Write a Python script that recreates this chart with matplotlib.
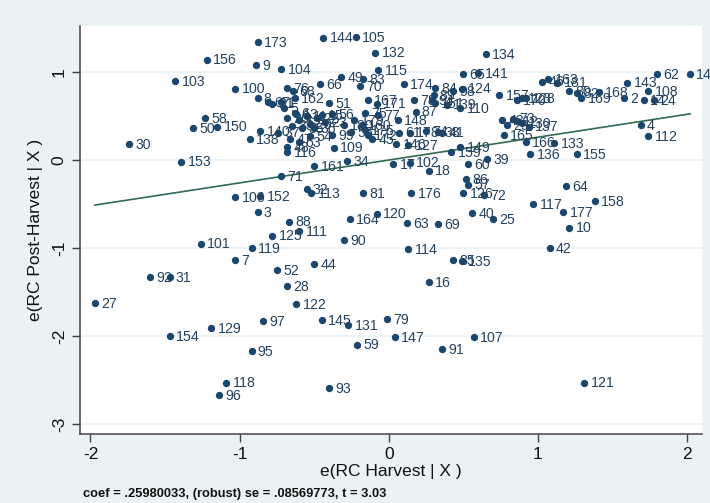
import matplotlib
matplotlib.use("Agg")
import matplotlib.pyplot as plt

plt.rcParams['font.family'] = ['Liberation Sans', 'DejaVu Sans']
plt.rcParams['axes.unicode_minus'] = False

# added-variable plot: residuals of post-harvest RC vs residuals of harvest RC
COEF = 0.25980033
NOTE = "coef = .25980033, (robust) se = .08569773, t = 3.03"

obs = [173, 156, 9, 104, 103, 100, 58, 50, 150, 30, 153, 138, 140, 144, 105, 132,
       134, 115, 49, 83, 66, 70, 174, 51, 167, 87, 110, 65, 141, 148, 39, 60,
       149, 159, 161, 34, 17, 102, 18, 109, 146, 127, 99, 45, 74, 38, 41,
       62, 142, 163, 46, 181, 80, 82, 169, 168, 2, 143, 14, 108, 24, 157, 170,
       128, 123, 43, 29, 73, 12, 130, 137, 165, 166, 133, 136, 155, 4, 112,
       71, 106, 152, 3, 88, 125, 101, 119, 7, 52, 92, 31, 27, 28, 111, 32,
       113, 81, 176, 86, 57, 126, 72, 40, 25, 63, 69, 164, 120, 90, 114, 44,
       85, 135, 16, 122, 64, 158, 117, 177, 10, 42, 154, 129, 97, 95, 118, 96,
       145, 131, 79, 147, 59, 91, 107, 93, 121,
       76, 68, 8, 67, 21, 1, 5, 162, 6, 11, 13, 15, 56, 19, 20, 22,
       23, 26, 33, 35, 36, 37, 47, 48, 116, 53, 54, 55, 171, 75, 77, 78,
       84, 89, 94, 98, 124, 139, 151, 160, 175, 172, 61, 178, 179, 180]

e_harvest = [-0.88, -1.22, -0.89, -0.72, -1.43, -1.03, -1.23, -1.31, -1.15, -1.74, -1.39, -0.93, -0.86, -0.44, -0.22, -0.09,
             0.65, -0.07, -0.32, -0.17, -0.46, -0.19, 0.10, -0.40, -0.14, 0.18, 0.48, 0.50, 0.60, 0.06, 0.66, 0.53,
             0.48, 0.42, -0.50, -0.28, 0.03, 0.14, 0.27, -0.37, 0.05, 0.13, -0.38, -0.11, 0.25, 0.33, 0.36,
             1.80, 2.02, 1.07, 1.03, 1.13, 1.21, 1.26, 1.29, 1.41, 1.58, 1.60, 1.71, 1.74, 1.78, 0.74, 0.86,
             0.92, 0.89, 0.76, 0.79, 0.83, 0.86, 0.89, 0.94, 0.77, 0.92, 1.11, 0.95, 1.26, 1.69, 1.74,
             -0.72, -1.03, -0.86, -0.88, -0.67, -0.78, -1.26, -0.92, -1.03, -0.75, -1.60, -1.47, -1.97, -0.68, -0.60, -0.55,
             -0.52, -0.17, 0.15, 0.52, 0.53, 0.50, 0.64, 0.56, 0.70, 0.12, 0.33, -0.26, -0.08, -0.30, 0.13, -0.50,
             0.43, 0.49, 0.27, -0.62, 1.19, 1.38, 0.97, 1.17, 1.21, 1.08, -1.47, -1.19, -0.84, -0.92, -1.09, -1.14,
             -0.45, -0.27, -0.01, 0.04, -0.21, 0.36, 0.57, -0.40, 1.31,
             -0.68, -0.64, -0.88, -0.81, -0.78, -0.72, -0.70, -0.63, -0.63, -0.55, -0.62, -0.45, -0.38, -0.60, -0.53, -0.48,
             -0.43, -0.68, -0.65, -0.58, -0.50, -0.74, -0.66, -0.68, -0.68, -0.60, -0.53, -0.25, -0.08, -0.16, -0.07, 0.17,
             0.31, 0.30, 0.29, 0.43, 0.49, 0.39, 0.31, -0.18, -0.16, -0.14, 0.07, 0.14, -0.23, -0.30]

e_post = [1.34, 1.14, 1.08, 1.03, 0.90, 0.81, 0.48, 0.36, 0.38, 0.18, -0.02, 0.24, 0.33, 1.39, 1.40, 1.22,
          1.20, 1.02, 0.94, 0.92, 0.86, 0.84, 0.86, 0.65, 0.68, 0.55, 0.59, 0.98, 0.99, 0.45, 0.01, -0.05,
          0.15, 0.09, -0.07, -0.01, -0.05, -0.03, -0.12, 0.14, 0.18, 0.17, 0.28, 0.24, 0.33, 0.32, 0.31,
          0.98, 0.98, 0.92, 0.89, 0.88, 0.78, 0.76, 0.70, 0.77, 0.70, 0.88, 0.68, 0.78, 0.68, 0.74, 0.68,
          0.70, 0.70, 0.45, 0.40, 0.47, 0.44, 0.42, 0.38, 0.28, 0.20, 0.19, 0.07, 0.07, 0.40, 0.27,
          -0.18, -0.42, -0.41, -0.59, -0.70, -0.86, -0.95, -1.00, -1.14, -1.25, -1.33, -1.33, -1.63, -1.43, -0.81, -0.33,
          -0.38, -0.38, -0.38, -0.22, -0.28, -0.38, -0.40, -0.60, -0.67, -0.72, -0.73, -0.67, -0.61, -0.91, -1.01, -1.18,
          -1.14, -1.15, -1.39, -1.64, -0.30, -0.47, -0.50, -0.59, -0.77, -1.00, -2.00, -1.91, -1.83, -2.17, -2.53, -2.67,
          -1.82, -1.88, -1.81, -2.01, -2.10, -2.15, -2.01, -2.59, -2.53,
          0.82, 0.78, 0.70, 0.66, 0.64, 0.66, 0.59, 0.70, 0.53, 0.50, 0.52, 0.51, 0.52, 0.45, 0.41, 0.48,
          0.43, 0.48, 0.39, 0.36, 0.36, 0.31, 0.24, 0.15, 0.09, 0.20, 0.27, 0.32, 0.64, 0.53, 0.51, 0.68,
          0.82, 0.74, 0.68, 0.78, 0.81, 0.63, 0.65, 0.40, 0.34, 0.28, 0.31, 0.31, 0.45, 0.40]

NAVY = '#1a476f'
LINE = '#2f6b4f'
BG = '#eaf2f3'

fig = plt.figure(figsize=(7.1, 5.03), dpi=100, facecolor=BG)
ax = fig.add_axes([0.1127, 0.1372, 0.876, 0.811])
ax.set_facecolor('white')

ax.scatter(e_harvest, e_post, s=28, color=NAVY, zorder=3, linewidths=0)
for lab, x, y in zip(obs, e_harvest, e_post):
    ax.annotate(str(lab), (x, y), xytext=(4.5, -0.5), textcoords='offset points',
                ha='left', va='center', fontsize=10.2, color='#23415f', zorder=4)

# fitted line through the origin, spanning the observed x range
x0, x1 = min(e_harvest), max(e_harvest)
ax.plot([x0, x1], [COEF * x0, COEF * x1], color=LINE, lw=1.2, zorder=2)

ax.set_xlim(-2.07, 2.10)
ax.set_ylim(-3.114, 1.523)
ax.set_xticks([-2, -1, 0, 1, 2])
ax.set_yticks([-3, -2, -1, 0, 1])
ax.tick_params(axis='both', direction='out', length=6, width=1, color='#444444',
               labelsize=12.5, labelcolor='#111111')
plt.setp(ax.get_yticklabels(), rotation=90, va='center')
ax.yaxis.grid(True, color=BG, lw=1.2, zorder=0)
ax.set_axisbelow(True)

for side in ['top', 'right']:
    ax.spines[side].set_visible(False)
for side in ['left', 'bottom']:
    ax.spines[side].set_color('#444444')
    ax.spines[side].set_linewidth(1.1)

ax.set_xlabel('e(RC Harvest | X )', fontsize=12.5, color='#111111', labelpad=1)
ax.set_ylabel('e(RC Post-Harvest | X )', fontsize=12.5, color='#111111', labelpad=6)

fig.text(83 / 710, 1 - 494 / 503, NOTE, fontsize=9.3, fontweight='bold',
         ha='left', va='center', color='#111111')

fig.savefig('out.png', dpi=100, facecolor=BG)
